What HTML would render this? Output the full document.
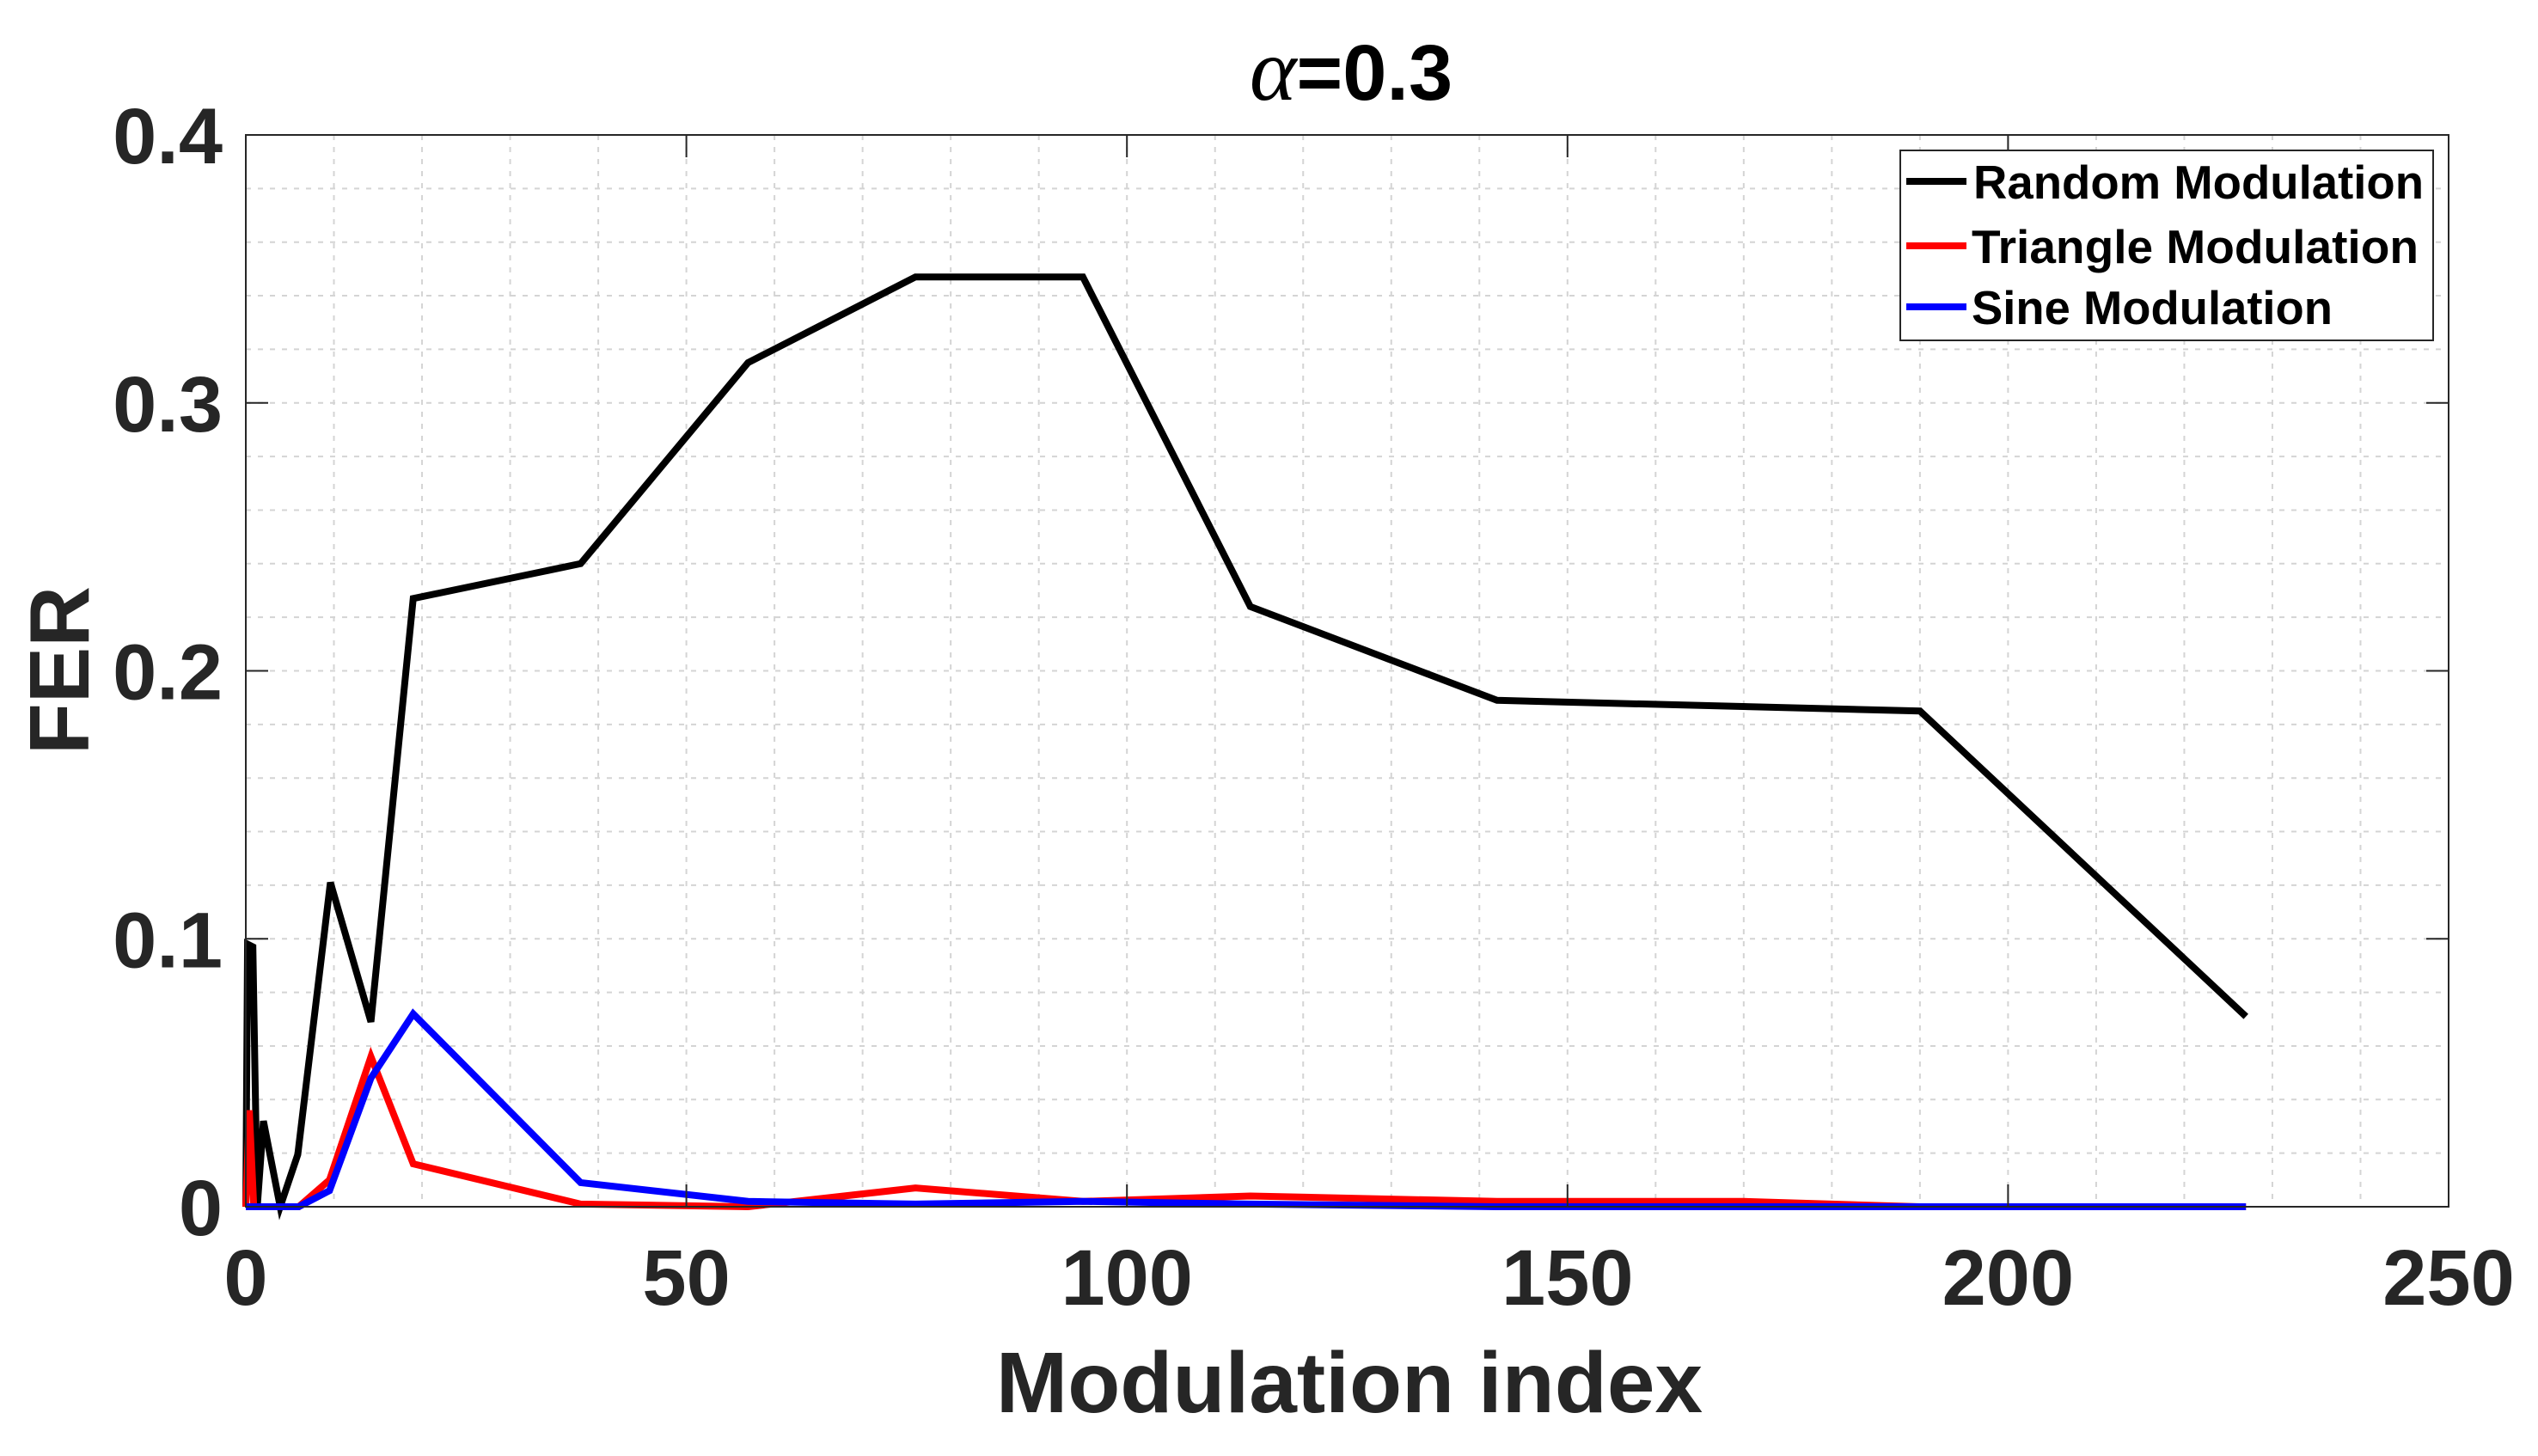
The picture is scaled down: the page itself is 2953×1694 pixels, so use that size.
<!DOCTYPE html>
<html><head><meta charset="utf-8"><style>html,body{margin:0;padding:0;background:#fff}svg{display:block}</style></head>
<body>
<svg id="chart" width="2953" height="1694" viewBox="0 0 2953 1694" xmlns="http://www.w3.org/2000/svg" font-family="'Liberation Sans', sans-serif">
<rect width="2953" height="1694" fill="#fff"/>
<g id="grid"></g>
<g id="series"></g>
<rect x="286" y="157" width="2563" height="1247" fill="none" stroke="#262626" stroke-width="2"/>
<g id="ticks"></g>
<text x="1572" y="116" text-anchor="middle" font-size="92" font-weight="bold" fill="#000"><tspan font-family="'Liberation Serif', serif" font-style="italic" font-weight="normal" font-size="104">α</tspan>=0.3</text>
<text x="1570" y="1643" text-anchor="middle" font-size="100" font-weight="bold" fill="#262626">Modulation index</text>
<text x="0" y="0" transform="translate(103,780) rotate(-90)" text-anchor="middle" font-size="98" font-weight="bold" fill="#262626">FER</text>
<g>
<rect x="2211" y="175" width="620" height="221" fill="#fff" stroke="#262626" stroke-width="2"/>
<line x1="2218" y1="211" x2="2288" y2="211" stroke="#000" stroke-width="8"/>
<text x="2296" y="231" font-size="55" font-weight="bold" textLength="524" lengthAdjust="spacingAndGlyphs">Random Modulation</text>
<line x1="2218" y1="286" x2="2288" y2="286" stroke="#f00" stroke-width="8"/>
<text x="2294" y="306" font-size="55" font-weight="bold" textLength="520" lengthAdjust="spacingAndGlyphs">Triangle Modulation</text>
<line x1="2218" y1="357" x2="2288" y2="357" stroke="#00f" stroke-width="8"/>
<text x="2294" y="377" font-size="55" font-weight="bold" textLength="420" lengthAdjust="spacingAndGlyphs">Sine Modulation</text>
</g>
</svg>
<script>
const xTicks = [0, 50, 100, 150, 200, 250];
const yTicks = [0, 0.1, 0.2, 0.3, 0.4];
const yTickLabels = ['0', '0.1', '0.2', '0.3', '0.4'];
const randomX = [0, 0.2, 0.8, 1.3, 2, 3.9, 5.9, 9.6, 14.2, 19, 38, 57, 76, 95, 114, 142, 190, 227];
const randomY = [0, 0.098, 0.097, 0, 0.032, 0, 0.0195, 0.121, 0.069, 0.227, 0.24, 0.315, 0.347, 0.347, 0.224, 0.189, 0.185, 0.071];
const triX = [0, 0.4, 0.9, 6, 9.5, 14.2, 19, 38, 57, 76, 95, 114, 142, 170, 190, 227];
const triY = [0, 0.036, 0, 0, 0.01, 0.056, 0.016, 0.001, 0, 0.007, 0.002, 0.004, 0.002, 0.002, 0, 0];
const sineX = [0, 6, 9.5, 14.2, 19, 38, 57, 76, 95, 114, 142, 190, 227];
const sineY = [0, 0, 0.006, 0.048, 0.072, 0.009, 0.002, 0.001, 0.002, 0.001, 0, 0, 0];

const L=286,R=2849,T=157,B=1404;
const sx=v=>L+(v-0)/(250-0)*(R-L);
const sy=v=>B-(v-0)/(0.4-0)*(B-T);
const NS='http://www.w3.org/2000/svg';
const grid=document.getElementById('grid'), ticks=document.getElementById('ticks'), series=document.getElementById('series');
function mk(tag,attrs,parent){const e=document.createElementNS(NS,tag);for(const k in attrs)e.setAttribute(k,attrs[k]);parent.appendChild(e);return e;}
for(let v=10;v<250;v+=10){
  const g=mk('line',{x1:sx(v),x2:sx(v),y1:T,y2:B,stroke:'#d4d4d4','stroke-width':2,'stroke-dasharray':'6 8'},grid);
  
  
}
for(let i=1;i<20;i++){
  const v=i*0.02;
  const g=mk('line',{x1:L,x2:R,y1:sy(v),y2:sy(v),stroke:'#d4d4d4','stroke-width':2,'stroke-dasharray':'6 8'},grid);
  
  
}
xTicks.forEach(v=>{
  const t=mk('line',{x1:sx(v),x2:sx(v),y1:B,y2:B-26,stroke:'#262626','stroke-width':2},ticks);
  
  
  const tt=mk('line',{x1:sx(v),x2:sx(v),y1:T,y2:T+26,stroke:'#262626','stroke-width':2},ticks);
  
  
  const l=mk('text',{x:sx(v),y:1518,'text-anchor':'middle','font-size':92,'font-weight':'bold',fill:'#262626'},ticks);
  l.textContent=String(v);
  
  
});
yTicks.forEach((v,i)=>{
  const t=mk('line',{x1:L,x2:L+26,y1:sy(v),y2:sy(v),stroke:'#262626','stroke-width':2},ticks);
  
  
  const tr=mk('line',{x1:R,x2:R-26,y1:sy(v),y2:sy(v),stroke:'#262626','stroke-width':2},ticks);
  
  
  const l=mk('text',{x:259,y:sy(v)+33,'text-anchor':'end','font-size':92,'font-weight':'bold',fill:'#262626'},ticks);
  l.textContent=yTickLabels[i];
  
  
});
function line(xs,ys,color,name){
  const p=mk('polyline',{points:xs.map((x,i)=>sx(x)+','+sy(ys[i])).join(' '),fill:'none',stroke:color,'stroke-width':8,'stroke-linejoin':'miter','stroke-miterlimit':4},series);
  
  
}
line(randomX,randomY,'#000','random-modulation-line');
line(triX,triY,'#f00','triangle-modulation-line');
line(sineX,sineY,'#00f','sine-modulation-line');
</script>
</body></html>
